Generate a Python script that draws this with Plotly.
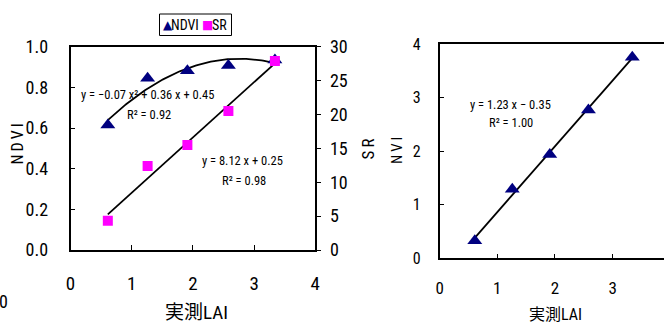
import numpy as np
import plotly.graph_objects as go

# Measured LAI and the three vegetation indices
lai = [0.61, 1.26, 1.91, 2.58, 3.34]
ndvi = [0.615, 0.845, 0.882, 0.907, 0.935]
sr = [4.3, 12.4, 15.5, 20.5, 27.9]
nvi = [0.33, 1.29, 1.94, 2.77, 3.76]

W, H = 664, 325
FONT = "Roboto Condensed, DejaVu Sans Condensed, sans-serif"
CJK = "Roboto Condensed, Noto Sans CJK JP, sans-serif"
NAVY = "#000080"
MAGENTA = "#FF00FF"


def px(x):
    return x / W


def py(y):
    return 1 - y / H


# Trendlines fitted to the data (drawn across the measured LAI span)
xs = np.linspace(min(lai), max(lai), 100)
q_ndvi = np.polyfit(lai, ndvi, 2)
l_sr = np.polyfit(lai, sr, 1)
l_nvi = np.polyfit(lai, nvi, 1)

fig = go.Figure()

fig.add_trace(go.Scatter(x=xs, y=np.polyval(q_ndvi, xs), mode="lines",
                         line=dict(color="black", width=1.8),
                         xaxis="x", yaxis="y", showlegend=False))
fig.add_trace(go.Scatter(x=xs, y=np.polyval(l_sr, xs), mode="lines",
                         line=dict(color="black", width=1.8),
                         xaxis="x", yaxis="y2", showlegend=False))
fig.add_trace(go.Scatter(x=lai, y=ndvi, mode="markers", name="NDVI",
                         marker=dict(symbol="triangle-up", size=13, color=NAVY),
                         xaxis="x", yaxis="y", showlegend=False))
fig.add_trace(go.Scatter(x=lai, y=sr, mode="markers", name="SR",
                         marker=dict(symbol="square", size=10, color=MAGENTA),
                         xaxis="x", yaxis="y2", showlegend=False))

fig.add_trace(go.Scatter(x=xs, y=np.polyval(l_nvi, xs), mode="lines",
                         line=dict(color="black", width=1.8),
                         xaxis="x3", yaxis="y3", showlegend=False))
fig.add_trace(go.Scatter(x=lai, y=nvi, mode="markers", name="NVI",
                         marker=dict(symbol="triangle-up", size=13, color=NAVY),
                         xaxis="x3", yaxis="y3", showlegend=False))

axis_common = dict(showgrid=False, zeroline=False, showline=True,
                   automargin=False,
                   linecolor="black", linewidth=1.5, ticks="inside",
                   ticklen=5, tickcolor="black", tickwidth=1.2,
                   tickfont=dict(family=FONT, size=18, color="black"))

fig.update_layout(
    width=W, height=H,
    margin=dict(l=0, r=0, t=0, b=0, pad=0),
    paper_bgcolor="white", plot_bgcolor="white",
    showlegend=False,
    xaxis=dict(axis_common, domain=[px(70.5), px(315.3)], range=[0, 4],
               dtick=1, tick0=0, mirror=True, anchor="y",
               tickfont=dict(family=FONT, size=19, color="black"),
               ticklabelstandoff=15),
    yaxis=dict(axis_common, domain=[py(250), py(46.7)], range=[0, 1],
               dtick=0.2, tickformat=".1f", mirror=True, anchor="x",
               ticklabelstandoff=17),
    yaxis2=dict(axis_common, overlaying="y", side="right", anchor="x",
                range=[0, 30], dtick=5, showline=False, ticks="outside",
                ticklabelstandoff=5),
    xaxis3=dict(axis_common, domain=[px(439.6), 1.0], range=[0, 3.89],
                dtick=1, tick0=0, mirror=True, anchor="y3",
                tickfont=dict(family=FONT, size=17, color="black"),
                ticklabelstandoff=14),
    yaxis3=dict(axis_common, domain=[py(258.3), py(44.3)], range=[0, 4],
                dtick=1, anchor="x3",
                tickfont=dict(family=FONT, size=16, color="black"),
                ticklabelstandoff=14),
)

ann_font = dict(family=FONT, size=12.5, color="black")
texts = [
    # equations and fit statistics
    (147.5, 94.3, "y = −0.07 x² + 0.36 x + 0.45", ann_font, 0),
    (148.5, 114.3, "R² = 0.92", ann_font, 0),
    (242.5, 160, "y = 8.12 x + 0.25", ann_font, 0),
    (243.5, 180, "R² = 0.98", ann_font, 0),
    (510.8, 104, "y = 1.23 x − 0.35", ann_font, 0),
    (510.8, 122.7, "R² = 1.00", ann_font, 0),
    # axis titles
    (16.5, 144, "N\u2009D\u2009V\u2009I", dict(family=FONT, size=16, color="black"), -90),
    (367.5, 149, "S\u2009R", dict(family=FONT, size=17, color="black"), -90),
    (396.5, 150.5, "N\u2009V\u2009I", dict(family=FONT, size=15, color="black"), -90),
    (196, 312, "実測LAI", dict(family=CJK, size=19, color="black"), 0),
    (555, 314.5, "実測LAI", dict(family=CJK, size=16, color="black"), 0),
    (3.5, 301, "0", dict(family=FONT, size=18, color="black"), 0),
    # legend entries
    (185.5, 25, "NDVI", dict(family=FONT, size=14, color="black"), 0),
    (219.5, 25, "SR", dict(family=FONT, size=14, color="black"), 0),
    (168, 25, "▲", dict(family="DejaVu Sans", size=12, color=NAVY), 0),
    (207, 25, "■", dict(family="DejaVu Sans", size=12, color=MAGENTA), 0),
]
annotations = [
    dict(x=px(x), y=py(y), text=t, font=f, textangle=a,
         xref="paper", yref="paper", showarrow=False,
         xanchor="center", yanchor="middle")
    for x, y, t, f, a in texts
]

fig.update_layout(
    annotations=annotations,
    shapes=[dict(type="rect", xref="paper", yref="paper",
                 x0=px(159.5), x1=px(231.5), y0=py(35.5), y1=py(14),
                 line=dict(color="black", width=1), fillcolor="white",
                 layer="below")],
)

fig.write_html("out.html")
